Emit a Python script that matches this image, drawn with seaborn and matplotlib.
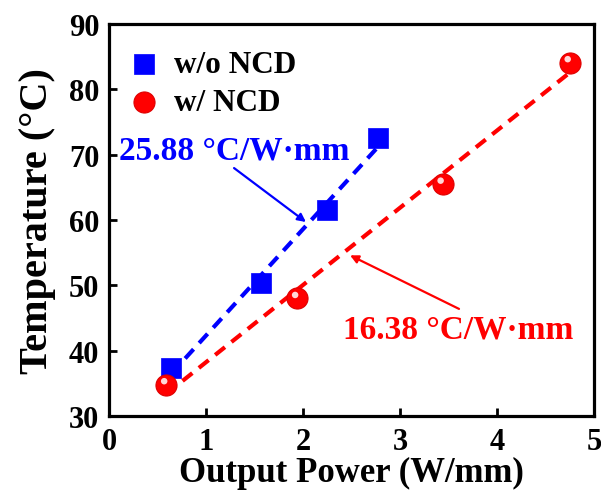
import numpy as np
import pandas as pd
import matplotlib
matplotlib.use("Agg")
import matplotlib.pyplot as plt
import matplotlib.transforms as mtrans
import seaborn as sns

# Data
power_wo = [0.64, 1.57, 2.25, 2.77]
temp_wo = [37.4, 50.4, 61.6, 72.5]
power_w = [0.59, 1.94, 3.44, 4.75]
temp_w = [34.8, 48.0, 65.5, 84.1]
label_wo = "w/o NCD"
label_w = "w/ NCD"
slope_wo_text = "25.88 °C/W·mm"
slope_w_text = "16.38 °C/W·mm"
x_ticks = [0, 1, 2, 3, 4, 5]
y_ticks = [30, 40, 50, 60, 70, 80, 90]

sns.set_style("ticks")
plt.rcParams["font.family"] = ["Liberation Serif", "DejaVu Serif"]
plt.rcParams["font.weight"] = "bold"
plt.rcParams["text.color"] = "black"
plt.rcParams["axes.labelcolor"] = "black"
plt.rcParams["xtick.color"] = "black"
plt.rcParams["ytick.color"] = "black"
plt.rcParams["axes.edgecolor"] = "black"

fig = plt.figure(figsize=(6.01, 5.02), dpi=100)
ax = fig.add_axes([0.1814, 0.1693, 0.8070, 0.7807])

df_wo = pd.DataFrame({"p": power_wo, "t": temp_wo})
df_w = pd.DataFrame({"p": power_w, "t": temp_w})

blue = "#0000ff"
red = "#ff0000"

sns.regplot(data=df_wo, x="p", y="t", scatter=False, ci=None, truncate=True, ax=ax,
            line_kws=dict(color=blue, lw=3, linestyle=(0, (3, 2)), zorder=2))
sns.regplot(data=df_w, x="p", y="t", scatter=False, ci=None, truncate=True, ax=ax,
            line_kws=dict(color=red, lw=3, linestyle=(0, (3, 2)), zorder=2))

sns.scatterplot(data=df_wo, x="p", y="t", marker="s", s=190, color=blue,
                edgecolor=blue, linewidth=0.5, ax=ax, label=label_wo, zorder=3)
sns.scatterplot(data=df_w, x="p", y="t", marker="o", s=230, color=red,
                edgecolor="#dd0000", linewidth=0.8, ax=ax, label=label_w, zorder=3)
# highlight on spheres
off = mtrans.offset_copy(ax.transData, fig=fig, x=-1.5, y=2.5, units="points")
ax.scatter(power_w, temp_w, s=22, color="#ffd8d8", edgecolor="none", transform=off, zorder=4)

ax.set_xlim(0, 5)
ax.set_ylim(30, 90)
ax.set_xticks(x_ticks)
ax.set_yticks(y_ticks)
ax.tick_params(direction="in", length=6, width=2, labelsize=22)
ax.tick_params(axis="x", pad=8)
ax.tick_params(axis="y", pad=7)
for lab in ax.get_xticklabels() + ax.get_yticklabels():
    lab.set_fontweight("bold")
for s in ax.spines.values():
    s.set_linewidth(2.3)
    s.set_visible(True)

ax.set_xlabel("Output Power (W/mm)", fontsize=25, fontweight="bold", labelpad=0)
ax.set_ylabel("Temperature (°C)", fontsize=29, fontweight="bold", labelpad=9)

leg = ax.legend(loc="upper left", bbox_to_anchor=(-0.012, 0.99), frameon=False,
                prop=dict(size=22.5, weight="bold"), handletextpad=0.35,
                labelspacing=0.3, borderaxespad=0.3, handlelength=1.2)

ax.text(1.294, 70.7, slope_wo_text, ha="center", va="center", color=blue,
        fontsize=24, fontweight="bold")
ax.annotate("", xy=(2.03, 59.7), xytext=(1.289, 67.96),
            arrowprops=dict(arrowstyle="-|>", color=blue, lw=1.6, mutation_scale=12,
                            shrinkA=0, shrinkB=0))
ax.text(3.603, 43.3, slope_w_text, ha="center", va="center", color=red,
        fontsize=24, fontweight="bold")
ax.annotate("", xy=(2.485, 54.6), xytext=(3.608, 46.4),
            arrowprops=dict(arrowstyle="-|>", color=red, lw=1.6, mutation_scale=12,
                            shrinkA=0, shrinkB=0))

fig.savefig("out.png", dpi=100)
